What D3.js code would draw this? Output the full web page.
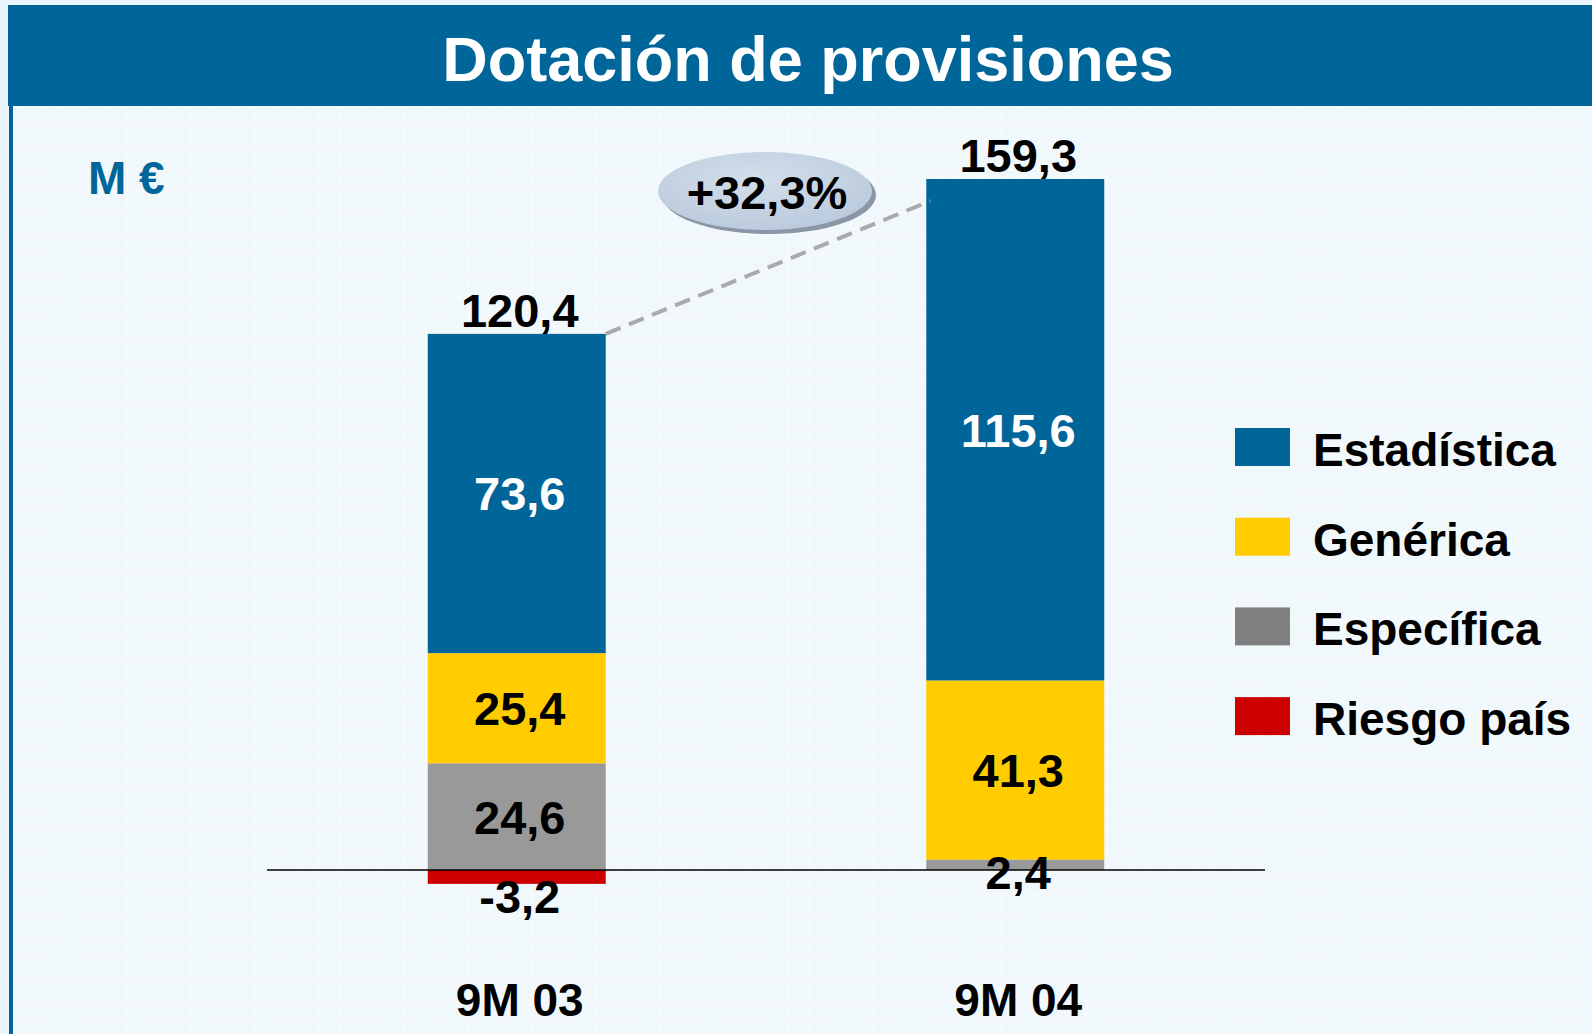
<!DOCTYPE html>
<html>
<head>
<meta charset="utf-8">
<script src="https://cdn.jsdelivr.net/npm/d3@7"></script>
<style>
  body { margin: 0; background: #e9f4fb; }
  svg { display: block; font-family: "Liberation Sans", Arial, sans-serif; }
</style>
</head>
<body>
<script>
// chart data
const categories = ["9M 03", "9M 04"];
const estadistica = [73.6, 115.6];
const generica = [25.4, 41.3];
const especifica = [24.6, 2.4];
const riesgoPais = [-3.2, 0];
const totals = [120.4, 159.3];
const growthLabel = "+32,3%";

const keys = ["Específica", "Genérica", "Estadística", "Riesgo país"];
const legendKeys = ["Estadística", "Genérica", "Específica", "Riesgo país"];
const colors = {"Estadística": "#006699", "Genérica": "#ffcc00", "Específica": "#999999", "Riesgo país": "#cc0000"};
const legendColors = {"Estadística": "#006699", "Genérica": "#ffcc00", "Específica": "#808080", "Riesgo país": "#cc0000"};

const width = 1592;
const height = 1034;

const rows = categories.map((c, i) => ({
  cat: c,
  "Estadística": estadistica[i],
  "Genérica": generica[i],
  "Específica": especifica[i],
  "Riesgo país": riesgoPais[i]
}));

// spanish style: comma decimals, plain hyphen for negatives
const fmt = v => d3.format(".1f")(v).replace(".", ",").replace("\u2212", "-");

var svg = d3.select('body')
    .append('svg')
    .attr('width', width)
    .attr('height', height);

// background + faint grid
var defs = svg.append('defs');
var pat = defs.append('pattern')
    .attr('id', 'grid')
    .attr('width', 21.3).attr('height', 21.3)
    .attr('patternUnits', 'userSpaceOnUse');
pat.append('rect').attr('width', 21.3).attr('height', 21.3).attr('fill', '#f1f8fc');
pat.append('path').attr('d', 'M21.3 0 V21.3 M0 21.3 H21.3')
    .attr('stroke', '#fbfdff').attr('stroke-width', 1.5);

var grad = defs.append('radialGradient').attr('id', 'ellGrad')
    .attr('cx', '45%').attr('cy', '35%').attr('r', '70%');
grad.append('stop').attr('offset', '0%').attr('stop-color', '#d3deea');
grad.append('stop').attr('offset', '100%').attr('stop-color', '#b9c9dc');

svg.append('rect').attr('x', 0).attr('y', 0).attr('width', width).attr('height', height).attr('fill', '#e9f4fb');
svg.append('rect').attr('x', 13).attr('y', 106).attr('width', width - 13).attr('height', height - 106).attr('fill', 'url(#grid)');

// title bar
svg.append('rect').attr('x', 8).attr('y', 5).attr('width', width - 8).attr('height', 101).attr('fill', '#006699');
svg.append('rect').attr('x', 9).attr('y', 106).attr('width', 4).attr('height', height - 106).attr('fill', '#006699');
svg.append('text')
    .attr('x', 808).attr('y', 81)
    .attr('text-anchor', 'middle')
    .attr('font-size', 63).attr('font-weight', 'bold')
    .attr('fill', '#ffffff')
    .text('Dotación de provisiones');

svg.append('text')
    .attr('x', 88).attr('y', 194)
    .attr('font-size', 46).attr('font-weight', 'bold')
    .attr('fill', '#006699')
    .text('M €');

// scales
var x = d3.scaleBand().domain(categories).range([267, 1265]).paddingInner(0.643).paddingOuter(0.3225);
var y = d3.scaleLinear().domain([0, 160]).range([870, 176]);

var series = d3.stack().keys(keys).offset(d3.stackOffsetDiverging)(rows);

var g = svg.append('g');
series.forEach(s => {
  g.selectAll(null)
    .data(s)
    .join('rect')
    .attr('x', d => x(d.data.cat))
    .attr('width', x.bandwidth())
    .attr('y', d => y(Math.max(d[0], d[1])))
    .attr('height', d => Math.abs(y(d[0]) - y(d[1])))
    .attr('fill', colors[s.key]);
});

// baseline
svg.append('line')
    .attr('x1', 267).attr('x2', 1265)
    .attr('y1', y(0)).attr('y2', y(0))
    .attr('stroke', '#000').attr('stroke-width', 1.5);

// segment labels
series.forEach(s => {
  s.forEach(d => {
    var v = d.data[s.key];
    if (v === 0) return;
    var top = y(Math.max(d[0], d[1])), bot = y(Math.min(d[0], d[1]));
    var h = bot - top;
    var cy = h > 30 ? (top + bot) / 2 : bot + (v < 0 ? 12 : 2);
    svg.append('text')
      .attr('x', x(d.data.cat) + x.bandwidth() / 2 + 3)
      .attr('y', cy)
      .attr('dy', '0.36em')
      .attr('text-anchor', 'middle')
      .attr('font-size', 47).attr('font-weight', 'bold')
      .attr('fill', s.key === 'Estadística' && h > 30 ? '#ffffff' : '#000000')
      .text(fmt(v));
  });
});

// totals above bars
categories.forEach((c, i) => {
  var posTop = d3.max(series, s => Math.max(s[i][0], s[i][1]));
  svg.append('text')
    .attr('x', x(c) + x.bandwidth() / 2 + 3)
    .attr('y', y(posTop) - 7)
    .attr('text-anchor', 'middle')
    .attr('font-size', 47).attr('font-weight', 'bold')
    .attr('fill', '#000')
    .text(fmt(totals[i]));
});

// dashed growth line
var top0 = d3.max(series, s => Math.max(s[0][0], s[0][1]));
var top1 = d3.max(series, s => Math.max(s[1][0], s[1][1]));
svg.append('line')
    .attr('x1', x(categories[0]) + x.bandwidth()).attr('y1', y(top0))
    .attr('x2', x(categories[1]) + 4).attr('y2', y(top1) + 22)
    .attr('stroke', '#aaaaaa').attr('stroke-width', 4)
    .attr('stroke-dasharray', '16 9');

// growth ellipse
svg.append('ellipse')
    .attr('cx', 769).attr('cy', 195).attr('rx', 107).attr('ry', 39)
    .attr('fill', '#8a96a6');
svg.append('ellipse')
    .attr('cx', 765).attr('cy', 191).attr('rx', 107).attr('ry', 39)
    .attr('fill', 'url(#ellGrad)');
svg.append('text')
    .attr('x', 767).attr('y', 209)
    .attr('text-anchor', 'middle')
    .attr('font-size', 47).attr('font-weight', 'bold')
    .attr('fill', '#000')
    .text(growthLabel);

// category labels
svg.selectAll('.cat')
    .data(categories)
    .join('text')
    .attr('class', 'cat')
    .attr('x', d => x(d) + x.bandwidth() / 2 + 3)
    .attr('y', 1016)
    .attr('text-anchor', 'middle')
    .attr('font-size', 46).attr('font-weight', 'bold')
    .attr('fill', '#000')
    .text(d => d);

// legend
var leg = svg.selectAll('.leg')
    .data(legendKeys)
    .join('g')
    .attr('class', 'leg')
    .attr('transform', (d, i) => `translate(1235, ${428 + i * 89.7})`);
leg.append('rect').attr('width', 55).attr('height', 38).attr('fill', d => legendColors[d]);
leg.append('text')
    .attr('x', 78).attr('y', 38)
    .attr('font-size', 46).attr('font-weight', 'bold')
    .attr('fill', '#000')
    .text(d => d);
</script>
</body>
</html>
